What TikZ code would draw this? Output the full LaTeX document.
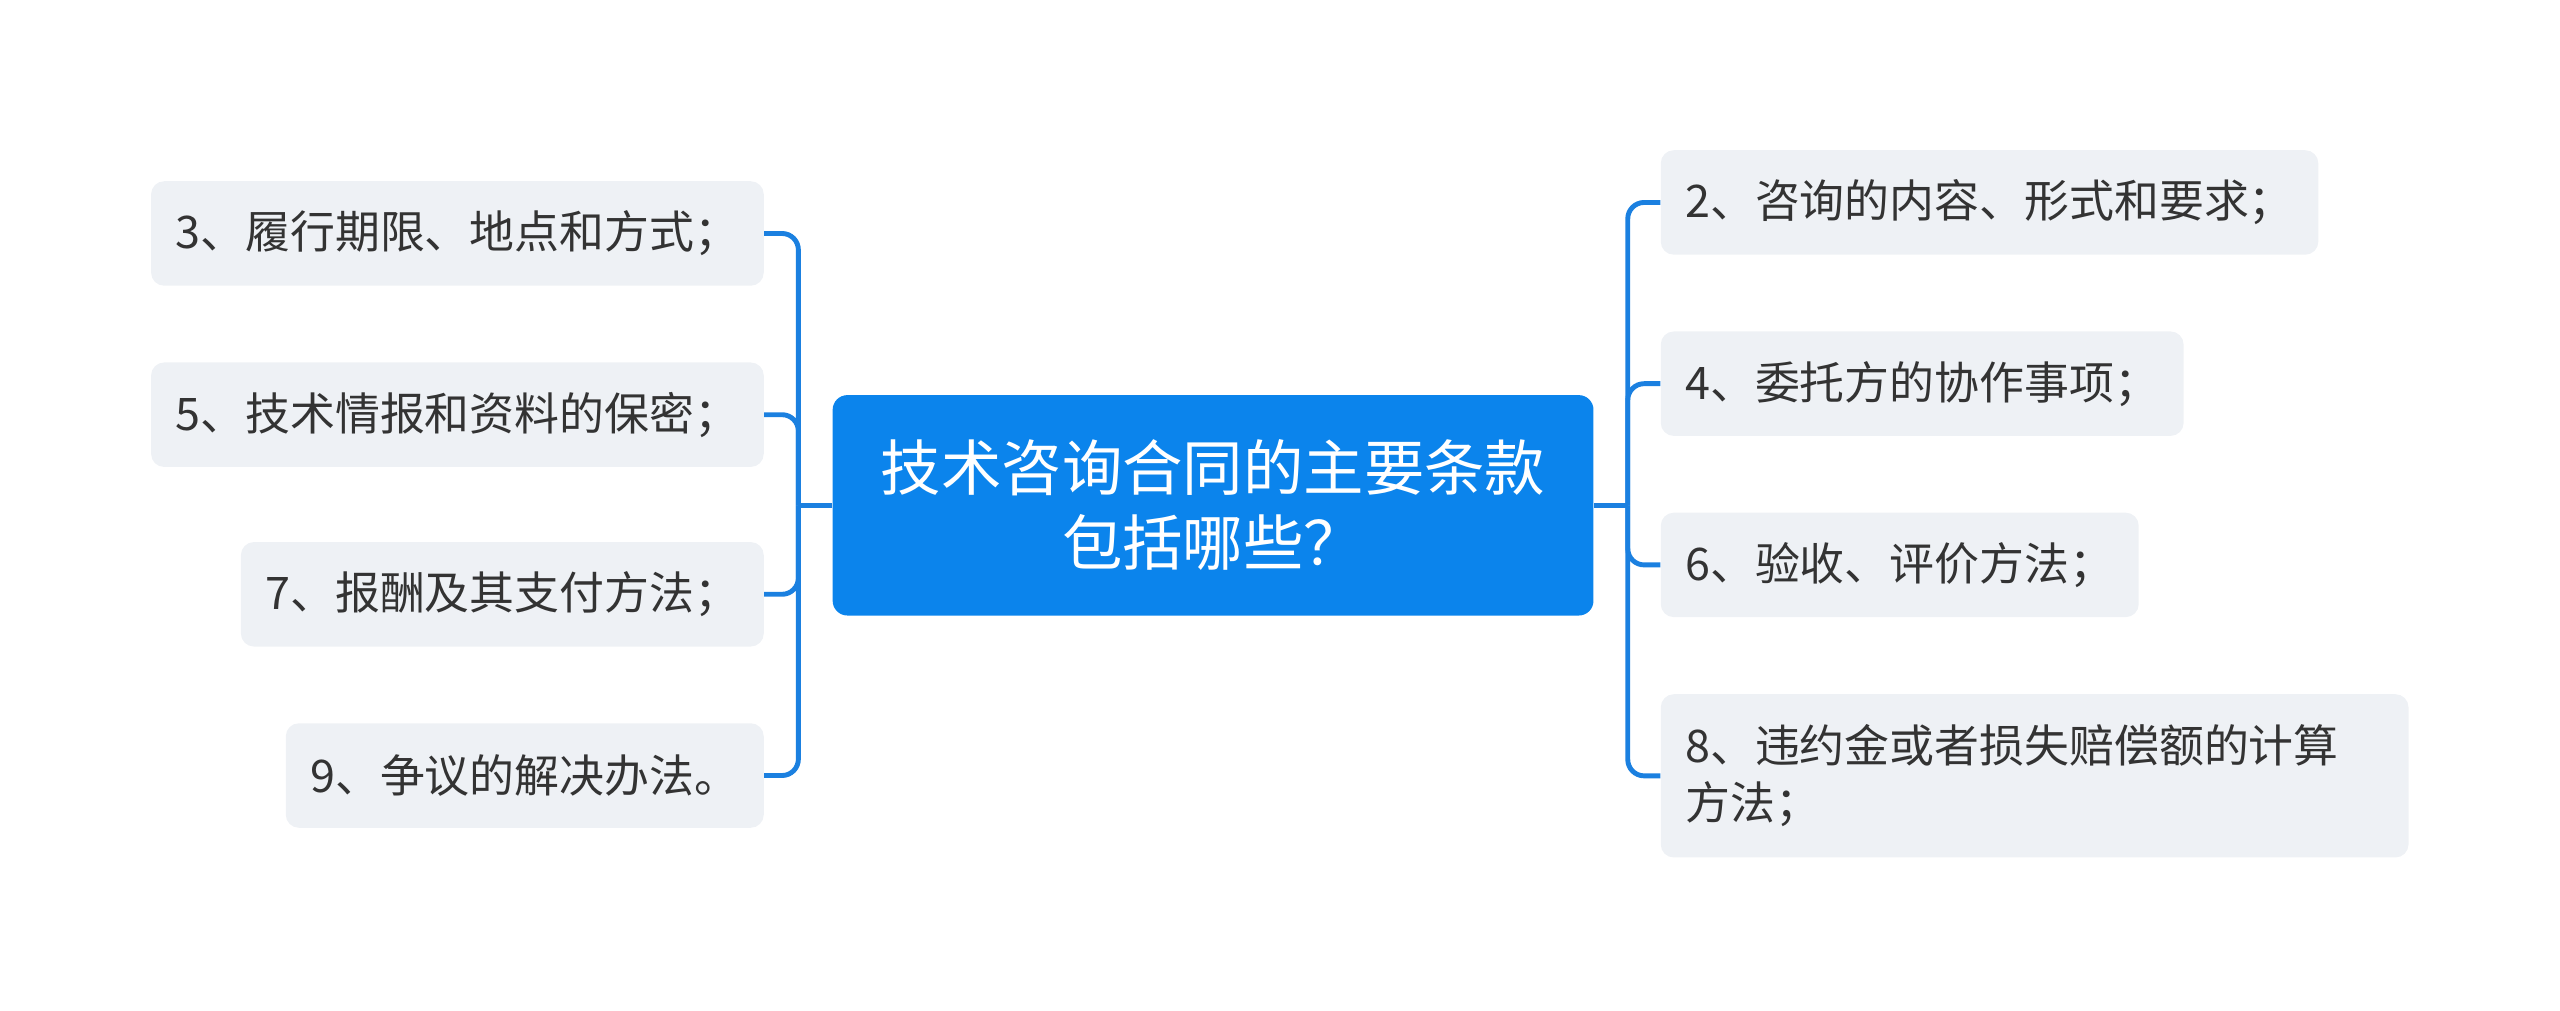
\documentclass[tikz,border=0pt]{standalone}
\usepackage{fontspec}
\setmainfont{Noto Sans CJK SC}
\definecolor{mainblue}{HTML}{0B84EC}
\definecolor{linkblue}{HTML}{1B80E0}
\definecolor{leafgray}{HTML}{EEF1F5}
\definecolor{txt}{HTML}{333333}
\begin{document}
\begin{tikzpicture}[x=1pt,y=-1pt,
 leaf/.style={fill=leafgray, rounded corners=8pt, text=txt, font=\fontsize{27.5}{35}\selectfont, inner xsep=15pt, inner ysep=0pt, minimum height=64pt, align=left},
 root/.style={fill=mainblue, rounded corners=9pt, text=white, font=\fontsize{37}{46}\selectfont, minimum width=466pt, minimum height=135pt, align=center, inner sep=0pt},
 link/.style={draw=linkblue, line width=3pt, rounded corners=10pt}]
\useasboundingbox (0,0) rectangle (1568,619);
\node[root] (c) at (743,309.5) {技术咨询合同的主要条款\\包括哪些？};
\node[leaf, anchor=east] (l1) at (468,143) {3、履行期限、地点和方式；};
\node[leaf, anchor=east] (l2) at (468,254) {5、技术情报和资料的保密；};
\node[leaf, anchor=east] (l3) at (468,364) {7、报酬及其支付方法；};
\node[leaf, anchor=east] (l4) at (468,475) {9、争议的解决办法。};
\node[leaf, anchor=west] (r1) at (1017,124) {2、咨询的内容、形式和要求；};
\node[leaf, anchor=west] (r2) at (1017,235) {4、委托方的协作事项；};
\node[leaf, anchor=west] (r3) at (1017,346) {6、验收、评价方法；};
\node[leaf, anchor=north west, text width=428pt, minimum height=100pt] (r4) at (1017,425) {8、违约金或者损失赔偿额的计算\\方法；};
\coordinate (lb) at (489,309.5);
\coordinate (rb) at (997,309.5);
\draw[link] (c.west) -- (lb);
\draw[link] (c.east) -- (rb);
\foreach \n in {l1,l2,l3,l4} \draw[link] (lb) |- (\n.east);
\foreach \n in {r1,r2,r3,r4} \draw[link] (rb) |- (\n.west);
\end{tikzpicture}
\end{document}
